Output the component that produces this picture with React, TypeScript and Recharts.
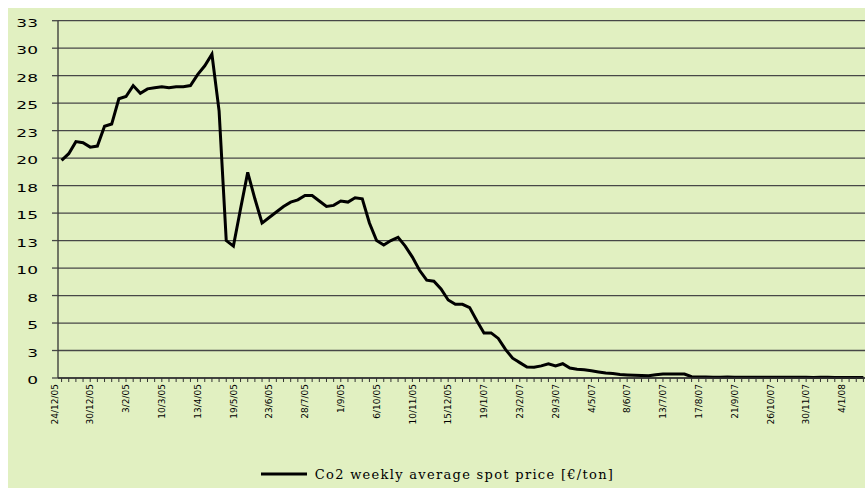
import { CartesianGrid, Legend, Line, LineChart, XAxis, YAxis } from "recharts";

// labels shown under every 5th week
const tickLabels = [
  "24/12/05", "30/12/05", "3/2/05", "10/3/05", "13/4/05", "19/5/05", "23/6/05", "28/7/05",
  "1/9/05", "6/10/05", "10/11/05", "15/12/05", "19/1/07", "23/2/07", "29/3/07", "4/5/07",
  "8/6/07", "13/7/07", "17/8/07", "21/9/07", "26/10/07", "30/11/07", "4/1/08",
];

// weekly average spot price, €/ton
const prices = [
  19.8, 20.4, 21.5, 21.4, 21.0, 21.1, 22.9, 23.1, 25.4, 25.6,
  26.6, 25.9, 26.3, 26.4, 26.5, 26.4, 26.5, 26.5, 26.6, 27.6,
  28.4, 29.45, 24.3, 12.5, 12.0, 15.4, 18.7, 16.3, 14.1, 14.6,
  15.1, 15.6, 16.0, 16.2, 16.6, 16.6, 16.1, 15.6, 15.7, 16.1,
  16.0, 16.4, 16.3, 14.1, 12.5, 12.1, 12.5, 12.8, 12.0, 11.0,
  9.8, 8.9, 8.8, 8.1, 7.1, 6.7, 6.7, 6.4, 5.2, 4.1,
  4.1, 3.6, 2.6, 1.8, 1.4, 1.0, 0.97, 1.1, 1.3, 1.1,
  1.3, 0.9, 0.8, 0.75, 0.65, 0.55, 0.45, 0.4, 0.32, 0.28,
  0.25, 0.22, 0.2, 0.3, 0.36, 0.36, 0.36, 0.36, 0.12, 0.08,
  0.08, 0.07, 0.07, 0.08, 0.07, 0.07, 0.06, 0.07, 0.07, 0.06,
  0.06, 0.07, 0.06, 0.06, 0.06, 0.05, 0.06, 0.06, 0.05, 0.05,
  0.05, 0.05, 0.05,
];

const yTicks = [0, 2.5, 5, 7.5, 10, 12.5, 15, 17.5, 20, 22.5, 25, 27.5, 30, 32.5];

const data = prices.map((price, week) => ({ week, price }));

const BG = "#e1f0c1";
const GRID = "#474747";

function WeekTick({ x, y, index }: any) {
  if (index % 5 !== 0) return null;
  const label = tickLabels[index / 5];
  if (!label) return null;
  return (
    <text
      transform={`translate(${x - 4},${y}) rotate(-90)`}
      textAnchor="end"
      fontSize={9}
      fontFamily="DejaVu Sans"
      fill="#000"
    >
      {label}
    </text>
  );
}

function PriceTick({ x, y, payload }: any) {
  return (
    <text
      transform={`translate(${x},${y + 6}) scale(1.7,1)`}
      textAnchor="end"
      fontSize={10}
      fontFamily="DejaVu Sans"
      fill="#000"
    >
      {Math.round(payload.value)}
    </text>
  );
}

function LegendBox() {
  return (
    <div style={{ display: "flex", justifyContent: "center", alignItems: "center", height: 20 }}>
      <svg width={46} height={6}>
        <line x1={0} y1={3} x2={46} y2={3} stroke="#000" strokeWidth={3} />
      </svg>
      <span
        style={{
          marginLeft: 8,
          fontFamily: '"DejaVu Serif"',
          fontSize: 13,
          letterSpacing: 1.3,
          color: "#000",
        }}
      >
        Co2 weekly average spot price [€/ton]
      </span>
    </div>
  );
}

export default function App() {
  return (
    <div
      style={{
        position: "fixed",
        top: 8,
        left: 8,
        width: 857,
        height: 480,
        overflow: "hidden",
        background: BG,
      }}
    >
      <LineChart width={859} height={480} data={data} margin={{ top: 12.7, right: 0, left: 0, bottom: 4 }}>
        <CartesianGrid vertical={false} stroke={GRID} strokeWidth={1.3} />
        <XAxis
          dataKey="week"
          type="category"
          scale="band"
          interval={0}
          height={86}
          tick={<WeekTick />}
          tickSize={4}
          tickMargin={2}
          tickLine={{ stroke: "#333" }}
          axisLine={{ stroke: "#333", strokeWidth: 1.3 }}
        />
        <YAxis
          domain={[0, 32.5]}
          ticks={yTicks}
          width={50}
          tick={<PriceTick />}
          tickSize={6}
          tickMargin={14}
          tickLine={{ stroke: GRID, strokeWidth: 1.3 }}
          axisLine={{ stroke: "#333", strokeWidth: 1.3 }}
        />
        <Legend verticalAlign="bottom" height={20} content={<LegendBox />} />
        <Line
          type="linear"
          dataKey="price"
          name="Co2 weekly average spot price [€/ton]"
          stroke="#000"
          strokeWidth={3}
          dot={false}
          isAnimationActive={false}
        />
      </LineChart>
    </div>
  );
}
